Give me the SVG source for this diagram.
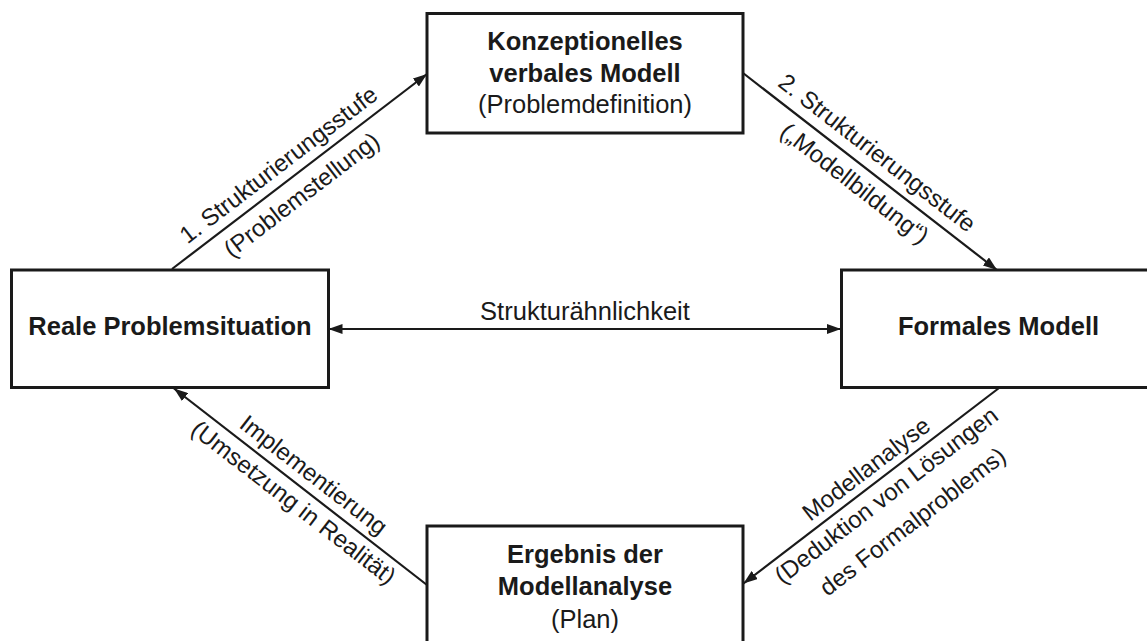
<svg xmlns="http://www.w3.org/2000/svg" width="1147" height="641" viewBox="0 0 1147 641">
<defs>
<style>
.box{fill:#fff;stroke:#1a1a1a;stroke-width:3}
.conn{fill:none;stroke:#1a1a1a;stroke-width:2.2}
text{font-family:"Liberation Sans",Arial,Helvetica,sans-serif;fill:#1a1a1a}
.b{font-weight:bold;font-size:25.5px;text-anchor:middle}
.r{font-size:25.5px;text-anchor:middle}
.lbl{font-size:24px;text-anchor:middle}
</style>
<marker id="ah" viewBox="0 0 14 10" refX="14" refY="5" markerWidth="14" markerHeight="10" markerUnits="userSpaceOnUse" orient="auto-start-reverse">
<path d="M0,0 L14,5 L0,10 z" fill="#1a1a1a"/>
</marker>
</defs>
<rect width="1147" height="641" fill="#fff"/>
<g id="connectors">
<line class="conn" x1="172" y1="269" x2="427" y2="74" marker-end="url(#ah)"/>
<line class="conn" x1="743" y1="73" x2="997" y2="270" marker-end="url(#ah)"/>
<line class="conn" x1="427" y1="585" x2="174" y2="388.5" marker-end="url(#ah)"/>
<line class="conn" x1="999" y1="388" x2="743.5" y2="583.5" marker-end="url(#ah)"/>
<line class="conn" x1="328.5" y1="329" x2="841" y2="329" marker-start="url(#ah)" marker-end="url(#ah)"/>
<text class="r" x="585" y="320">Strukturähnlichkeit</text>
<g transform="translate(172,269) rotate(-37.4)">
<text class="lbl" x="148" y="-10">1. Strukturierungsstufe</text>
<text class="lbl" x="148" y="28">(Problemstellung)</text>
</g>
<g transform="translate(743,73) rotate(37.8)">
<text class="lbl" x="155" y="-11">2. Strukturierungsstufe</text>
<text class="lbl" x="156" y="27">(„Modellbildung“)</text>
</g>
<g transform="translate(175,389.5) rotate(37.7)">
<text class="lbl" x="162" y="-9">Implementierung</text>
<text class="lbl" x="163" y="25">(Umsetzung in Realität)</text>
</g>
<g transform="translate(743.3,583.3) rotate(-37.4)">
<text class="lbl" x="167" y="-8">Modellanalyse</text>
<text class="lbl" x="167" y="25">(Deduktion von Lösungen</text>
<text class="lbl" x="172" y="62">des Formalproblems)</text>
</g>
</g>
<g id="node-konzeptionell">
<rect class="box" x="427" y="13.5" width="316" height="119.5"/>
<text class="b" x="585" y="50">Konzeptionelles</text>
<text class="b" x="585" y="82">verbales Modell</text>
<text class="r" x="585" y="113">(Problemdefinition)</text>
</g>
<g id="node-real">
<rect class="box" x="11.5" y="270" width="317" height="117.5"/>
<text class="b" x="170" y="335">Reale Problemsituation</text>
</g>
<g id="node-formal">
<rect class="box" x="841.5" y="270" width="320" height="117.5"/>
<text class="b" x="998.5" y="335">Formales Modell</text>
</g>
<g id="node-ergebnis">
<rect class="box" x="427" y="526" width="316" height="130"/>
<text class="b" x="585" y="563">Ergebnis der</text>
<text class="b" x="585" y="595">Modellanalyse</text>
<text class="r" x="585" y="628">(Plan)</text>
</g>
</svg>
